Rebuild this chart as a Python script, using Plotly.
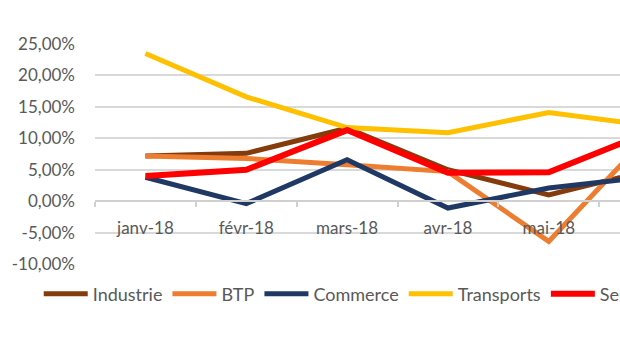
import plotly.graph_objects as go

# Monthly growth rates by sector (%)
months = ["janv-18", "févr-18", "mars-18", "avr-18", "mai-18", "juin-18"]
industrie = [7.2, 7.6, 11.6, 5.0, 1.0, 4.9]
btp = [7.2, 6.8, 5.8, 4.7, -6.4, 10.6]
commerce = [3.8, -0.4, 6.6, -1.1, 2.1, 3.9]
transports = [23.5, 16.6, 11.7, 10.9, 14.1, 12.0]
services = [4.0, 5.0, 11.3, 4.5, 4.6, 11.0]

y_ticks = [-10, -5, 0, 5, 10, 15, 20, 25]
y_labels = [f"{v:.2f}".replace(".", ",") + "%" for v in y_ticks]

series = [
    ("Industrie", industrie, "#843C0C", 5),
    ("BTP", btp, "#ED7D31", 5),
    ("Commerce", commerce, "#1F3864", 5),
    ("Transports", transports, "#FFC000", 5),
    ("Services", services, "#FF0000", 6),
]

FONT = "Lato"
TXT = "#595959"

fig = go.Figure()
for name, vals, color, w in series:
    fig.add_trace(go.Scatter(
        x=months, y=vals, name=name, mode="lines",
        line=dict(color=color, width=w),
    ))

y_min, y_max = -10, 25
fig.update_layout(
    width=715, height=350,
    margin=dict(l=88, r=15, t=44, b=86),
    paper_bgcolor="white", plot_bgcolor="white",
    font=dict(family=FONT, size=17, color=TXT),
    showlegend=True,
    legend=dict(
        orientation="h", x=-0.093, xanchor="left", y=-0.052, yanchor="top",
        font=dict(family=FONT, size=18, color=TXT),
        bgcolor="rgba(0,0,0,0)", itemwidth=44, tracegroupgap=0,
    ),
    xaxis=dict(
        type="category", anchor="free", range=[-0.5, 5.5],
        position=(0 - y_min) / (y_max - y_min),
        showline=True, linecolor="#d0d0d0", linewidth=1.5,
        ticks="outside", ticklen=5, tickcolor="#d0d0d0", tickwidth=1.5,
        tickson="boundaries", showgrid=False, zeroline=False,
        ticklabelstandoff=12,
        tickfont=dict(family=FONT, size=17, color=TXT),
    ),
    yaxis=dict(
        range=[y_min, y_max], tickvals=y_ticks, ticktext=y_labels,
        showgrid=True, gridcolor="#d9d9d9", gridwidth=1.5,
        zeroline=False, showline=False, ticks="",
        ticklabelstandoff=19,
        tickfont=dict(family=FONT, size=17, color=TXT),
    ),
)

fig.write_html(
    "out.html",
    post_script="document.documentElement.style.overflow='hidden';document.body.style.overflow='hidden';",
)
